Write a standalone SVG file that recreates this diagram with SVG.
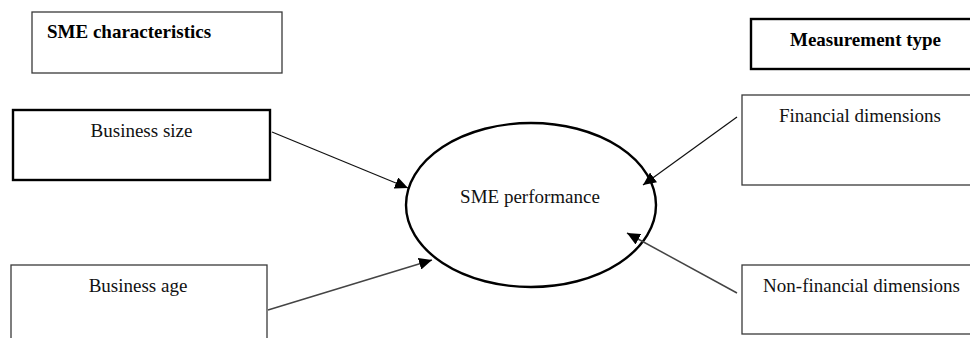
<svg xmlns="http://www.w3.org/2000/svg" width="970" height="338" viewBox="0 0 970 338">
<style>
text{font-family:"Liberation Serif","Times New Roman",serif;font-size:19px;fill:#111}
.b{font-weight:bold;fill:#000}
.thin{fill:#fff;stroke:#3a3a3a;stroke-width:1.3}
.thick{fill:#fff;stroke:#000;stroke-width:2.4}
.c1{stroke:#111;stroke-width:1.2;fill:none}
.c2{stroke:#444;stroke-width:1.5;fill:none}
</style>
<defs>
<marker id="ah" markerUnits="userSpaceOnUse" markerWidth="14" markerHeight="12" refX="13" refY="6" orient="auto">
<path d="M0,0 L13,6 L0,12 z" fill="#000"/>
</marker>
</defs>
<rect width="970" height="338" fill="#fff"/>
<g id="sme-characteristics">
<rect class="thin" x="32" y="12" width="250" height="61"/>
<text class="b" x="47" y="38">SME characteristics</text>
</g>
<g id="business-size">
<rect class="thick" x="13" y="110" width="257" height="70"/>
<text x="141.5" y="137" text-anchor="middle">Business size</text>
</g>
<g id="business-age">
<rect class="thin" x="11" y="265" width="256" height="80"/>
<text x="138" y="292" text-anchor="middle">Business age</text>
</g>
<g id="sme-performance">
<ellipse cx="531" cy="205" rx="125" ry="82" fill="#fff" stroke="#000" stroke-width="2.4"/>
<text x="530" y="203" text-anchor="middle">SME performance</text>
</g>
<g id="measurement-type">
<rect class="thick" x="751" y="19" width="230" height="50"/>
<text class="b" x="865.5" y="46" text-anchor="middle">Measurement type</text>
</g>
<g id="financial-dimensions">
<rect class="thin" x="742" y="95" width="240" height="90"/>
<text x="860" y="122" text-anchor="middle">Financial dimensions</text>
</g>
<g id="non-financial-dimensions">
<rect class="thin" x="742" y="265" width="240" height="69"/>
<text x="861.5" y="292" text-anchor="middle">Non-financial dimensions</text>
</g>
<g id="connectors">
<line class="c1" x1="272" y1="132" x2="408" y2="188" marker-end="url(#ah)"/>
<line class="c2" x1="268" y1="310" x2="432" y2="260" marker-end="url(#ah)"/>
<line class="c1" x1="737" y1="117" x2="643" y2="185" marker-end="url(#ah)"/>
<line class="c2" x1="737" y1="293" x2="627" y2="233" marker-end="url(#ah)"/>
</g>
</svg>
